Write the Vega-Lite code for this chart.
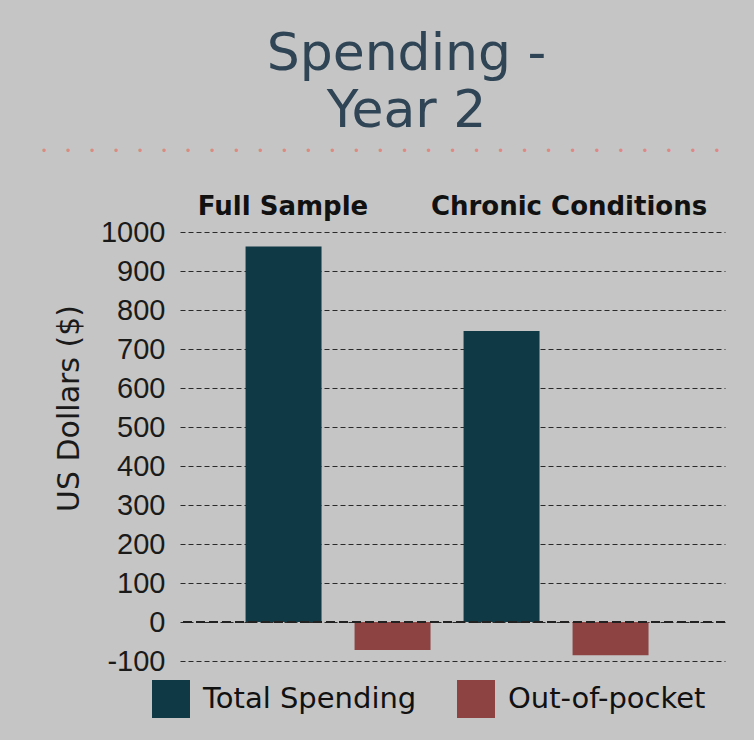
{
  "$schema": "https://vega.github.io/schema/vega-lite/v6.json",
  "autosize": {"type": "none"},
  "padding": {"left": 180, "top": 232, "right": 29, "bottom": 79},
  "width": 545,
  "height": 429,
  "background": "#c5c5c5",
  "title": {
    "text": ["\u200b\u2003Spending -", "\u200b\u2003Year 2"],
    "subtitle": "\u2022\u2003\u2002\u2022\u2003\u2002\u2022\u2003\u2002\u2022\u2003\u2002\u2022\u2003\u2002\u2022\u2003\u2002\u2022\u2003\u2002\u2022\u2003\u2002\u2022\u2003\u2002\u2022\u2003\u2002\u2022\u2003\u2002\u2022\u2003\u2002\u2022\u2003\u2002\u2022\u2003\u2002\u2022\u2003\u2002\u2022\u2003\u2002\u2022\u2003\u2002\u2022\u2003\u2002\u2022\u2003\u2002\u2022\u2003\u2002\u2022\u2003\u2002\u2022\u2003\u2002\u2022\u2003\u2002\u2022\u2003\u2002\u2022\u2003\u2002\u2022\u2003\u2002\u2022\u2003\u2002\u2022\u2003\u2002\u2022",
    "anchor": "middle",
    "frame": "group",
    "dx": -72,
    "offset": 35,
    "font": "DejaVu Sans",
    "fontSize": 52,
    "fontWeight": "normal",
    "color": "#2f4455",
    "lineHeight": 57,
    "subtitleFont": "DejaVu Sans",
    "subtitleFontSize": 11.5,
    "subtitleColor": "#dc8a84",
    "subtitlePadding": 8
  },
  "data": {
    "values": [
      {"group": "Full Sample", "type": "Total Spending", "value": 963},
      {"group": "Full Sample", "type": "Out-of-pocket", "value": -72},
      {"group": "Chronic Conditions", "type": "Total Spending", "value": 746},
      {"group": "Chronic Conditions", "type": "Out-of-pocket", "value": -85}
    ]
  },
  "layer": [
    {
      "mark": {"type": "bar"},
      "encoding": {
        "x": {
          "field": "group",
          "type": "nominal",
          "sort": ["Full Sample", "Chronic Conditions"],
          "scale": {"paddingInner": 0, "paddingOuter": 0.25, "align": 0.45},
          "axis": {
            "orient": "top",
            "title": null,
            "labelAngle": 0,
            "domain": false,
            "ticks": false,
            "labelLimit": 0,
            "labelOverlap": false,
            "labelFont": "DejaVu Sans",
            "labelFontWeight": "bold",
            "labelFontSize": 26,
            "labelColor": "#111111",
            "labelPadding": 18,
            "labelBaseline": "alphabetic",
            "labelOffset": {"condition": {"test": "datum.value == 'Full Sample'", "value": -55}, "value": 13}
          }
        },
        "xOffset": {
          "field": "type",
          "type": "nominal",
          "sort": ["Total Spending", "Out-of-pocket"],
          "scale": {"paddingInner": 0.303, "paddingOuter": 0.1515}
        },
        "y": {
          "field": "value",
          "type": "quantitative",
          "scale": {"domain": [-100, 1000], "nice": false},
          "axis": {
            "values": [-100, 0, 100, 200, 300, 400, 500, 600, 700, 800, 900, 1000],
            "tickCount": 12,
            "labelExpr": "datum.value < 0 ? '-' + abs(datum.value) : '' + datum.value",
            "labelOverlap": false,
            "title": "US Dollars ($)",
            "titleY": 176,
            "domain": false,
            "ticks": false,
            "grid": true,
            "gridDash": [5, 3],
            "gridColor": "#2a2a2a",
            "gridWidth": 1,
            "labelFont": "Liberation Sans",
            "labelFontSize": 29,
            "labelColor": "#1a1a1a",
            "labelPadding": 15,
            "titleFont": "DejaVu Sans",
            "titleFontSize": 30,
            "titleFontWeight": "normal",
            "titleColor": "#1a1a1a",
            "titlePadding": 16
          }
        },
        "color": {
          "field": "type",
          "type": "nominal",
          "scale": {"domain": ["Total Spending", "Out-of-pocket"], "range": ["#0e3945", "#8e4343"]},
          "legend": {
            "orient": "none",
            "legendX": -28,
            "legendY": 448,
            "direction": "horizontal",
            "title": null,
            "symbolType": "square",
            "symbolSize": 1444,
            "symbolStrokeWidth": 0,
            "symbolOpacity": 1,
            "labelLimit": 0,
            "labelFont": "DejaVu Sans",
            "labelFontSize": 29,
            "labelColor": "#111111",
            "labelOffset": 13,
            "columnPadding": 40
          }
        }
      }
    },
    {
      "mark": {"type": "rule", "strokeDash": [9, 4], "color": "#222222", "strokeWidth": 1.5},
      "encoding": {"y": {"datum": 0}}
    }
  ],
  "config": {"view": {"stroke": null}}
}
